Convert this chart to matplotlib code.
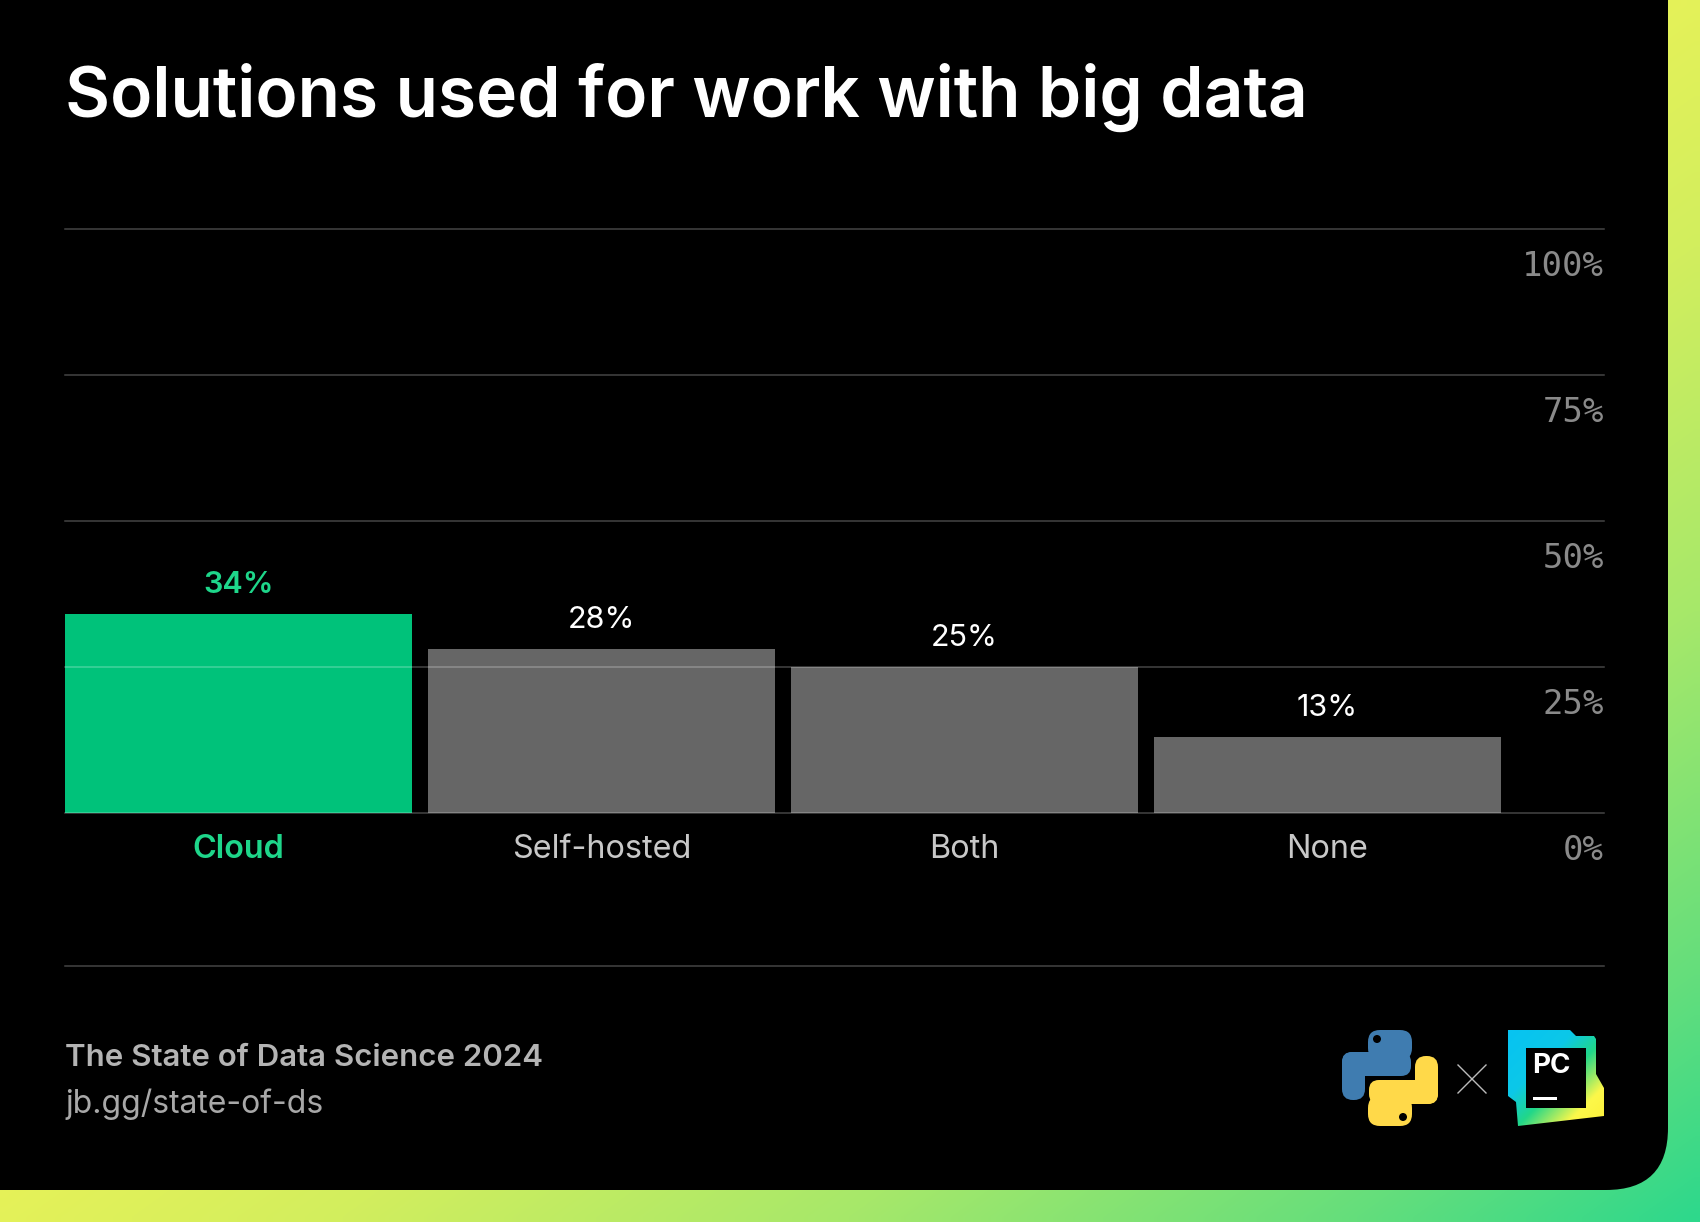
import numpy as np
import matplotlib.pyplot as plt
from matplotlib.patches import FancyBboxPatch, Polygon, Circle, Rectangle

# data
categories = ['Cloud', 'Self-hosted', 'Both', 'None']
shares = [34, 28, 25, 13]
ticks = [0, 25, 50, 75, 100]
tick_labels = ['0%', '25%', '50%', '75%', '100%']
highlight = 'Cloud'

W, H = 1700, 1222
PT = 0.72  # px -> points at dpi 100
sans = ['Inter', 'DejaVu Sans']
mono = ['DejaVu Sans Mono']

fig = plt.figure(figsize=(W / 100, H / 100), dpi=100, facecolor='black')

# background layer in pixel coords
bg = fig.add_axes([0, 0, 1, 1])
bg.axis('off')

# green/yellow gradient frame
gx, gy = np.meshgrid(np.linspace(0, 1, 170), np.linspace(0, 1, 123))
s = gx + gy
stops = [0.95, 1.2, 1.5, 1.8, 2.0]
cols = np.array([[0xe8, 0xf2, 0x58], [0xd2, 0xee, 0x5e], [0xa6, 0xe8, 0x6a],
                 [0x64, 0xde, 0x7c], [0x2e, 0xd8, 0x8c]]) / 255
img = np.dstack([np.interp(s, stops, cols[:, k]) for k in range(3)])
bg.imshow(img, extent=(0, W, H, 0), interpolation='bilinear', aspect='auto', zorder=0)

# black panel with rounded bottom-right corner
bg.add_patch(FancyBboxPatch((-200, -200), 1668 + 200, 1190 + 200,
                            boxstyle='round,pad=0,rounding_size=62',
                            fc='black', ec='none', zorder=1))
bg.set_xlim(0, W)
bg.set_ylim(H, 0)

# title + footer
bg.text(65, 117, 'Solutions used for work with big data', color='white',
        fontsize=50, fontweight='semibold', family=sans, va='baseline', zorder=5)
bg.plot([65, 1604], [966, 966], color='white', alpha=0.27, lw=1.1, zorder=2)
bg.text(65, 1066, 'The State of Data Science 2024', color='#b4b4b4',
        fontsize=22.5, fontweight='semibold', family=sans, va='baseline', zorder=5)
bg.text(65, 1113, 'jb.gg/state-of-ds', color='#a8a8a8',
        fontsize=23, family=sans, va='baseline', zorder=5)

# python logo (rough)
ox, oy = 1342, 1030
def rbox(x0, y0, w, h, r, c):
    bg.add_patch(FancyBboxPatch((ox + x0, oy + y0), w, h,
                                boxstyle=f'round,pad=0,rounding_size={r}',
                                fc=c, ec='none', zorder=4))
blue, yellow = '#3f7cb0', '#ffd949'
for (x0, y0, w, h, r) in [(26, 0, 44, 30, 12), (0, 22, 69, 24, 10), (0, 22, 23, 48, 11)]:
    rbox(x0, y0, w, h, r, blue)
    rbox(96 - x0 - w, 96 - y0 - h, w, h, r, yellow)
bg.add_patch(Circle((ox + 35, oy + 9), 4, fc='black', zorder=5))
bg.add_patch(Circle((ox + 61, oy + 87), 4, fc='black', zorder=5))

# the "x"
cx, cy = 1472, 1079
bg.plot([cx - 14, cx + 14], [cy - 14, cy + 14], color='#bbbbbb', lw=1, zorder=4)
bg.plot([cx - 14, cx + 14], [cy + 14, cy - 14], color='#bbbbbb', lw=1, zorder=4)

# pycharm logo (rough)
px, py = 1508, 1030
shape = [(0, 0), (62, 0), (68, 6), (86, 6), (88, 9), (88, 44), (96, 58),
         (96, 86), (10, 96), (8, 72), (0, 66)]
poly = Polygon([(px + a, py + b) for a, b in shape], closed=True,
               fc='none', ec='none', zorder=3)
bg.add_patch(poly)
lx, ly = np.meshgrid(np.linspace(0, 1, 60), np.linspace(0, 1, 60))
t = (lx + ly) / 2
pstops = [0.0, 0.35, 0.55, 0.8, 1.0]
pcols = np.array([[0x07, 0xc3, 0xf2], [0x0c, 0xc8, 0xe8], [0x21, 0xd7, 0x89],
                  [0xfc, 0xf8, 0x4a], [0xfc, 0xf0, 0x3a]]) / 255
pimg = np.dstack([np.interp(t, pstops, pcols[:, k]) for k in range(3)])
im = bg.imshow(pimg, extent=(px, px + 96, py + 96, py), interpolation='bilinear',
               aspect='auto', zorder=3)
im.set_clip_path(poly)
bg.add_patch(Rectangle((px + 18, py + 18), 60, 60, fc='black', ec='none', zorder=4))
bg.text(px + 24, py + 43, 'PC', color='white', fontsize=20, fontweight='bold',
        family=sans, va='baseline', zorder=5)
bg.add_patch(Rectangle((px + 25, py + 67), 24, 3, fc='white', ec='none', zorder=5))
bg.set_xlim(0, W)
bg.set_ylim(H, 0)

# chart
ax = fig.add_axes([65 / W, 1 - 813 / H, 1539 / W, 584 / H])
ax.set_facecolor('none')
for sp in ax.spines.values():
    sp.set_visible(False)
ax.set_xticks([])
ax.set_yticks([])

x = np.arange(len(categories))
bar_cols = ['#00c27a' if c == highlight else '#666666' for c in categories]
ax.bar(x, shares, width=0.957, color=bar_cols, zorder=2)
ax.set_xlim(-0.4785, -0.4785 + 1539 / 362.9)
ax.set_ylim(0, 100)

for tv, lab in zip(ticks, tick_labels):
    ax.axhline(tv, color='white', alpha=0.27, lw=1.1, zorder=3, clip_on=False)
    ax.annotate(lab, xy=(1, tv), xycoords=('axes fraction', 'data'),
                xytext=(0, -37 * PT), textcoords='offset points',
                ha='right', va='center', color='#8a8a8a', fontsize=24.5, family=mono)

for xi, cat, v in zip(x, categories, shares):
    hl = cat == highlight
    ax.annotate(f'{v}%', xy=(xi, v), xytext=(0, 29 * PT), textcoords='offset points',
                ha='center', va='center', fontsize=22, family=sans,
                color='#1ed68a' if hl else 'white',
                fontweight='semibold' if hl else 'normal')
    ax.annotate(cat, xy=(xi, 0), xytext=(0, -37 * PT), textcoords='offset points',
                ha='center', va='center', fontsize=23.3, family=sans,
                color='#1ed68a' if hl else '#c8c8c8',
                fontweight='semibold' if hl else 'normal')

fig.savefig('out.png', dpi=100, facecolor='black')
